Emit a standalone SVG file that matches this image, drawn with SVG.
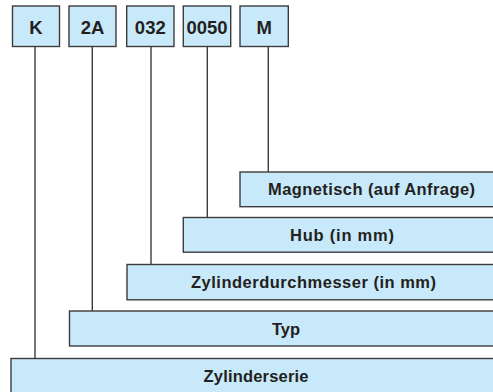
<svg xmlns="http://www.w3.org/2000/svg" width="493" height="392" viewBox="0 0 493 392">
<style>
.box{fill:#c8e9f9;stroke:#3c3c3c;stroke-width:1.4}
.conn line{stroke:#3c3c3c;stroke-width:1.4}
.t{font-family:"Liberation Sans",Arial,sans-serif;font-weight:bold;fill:#231f20;text-anchor:middle}
.code{font-size:18.5px}
.lab{font-size:16.5px}
</style>
<rect width="493" height="392" fill="#ffffff"/>
<g id="connectors" class="conn">
<line x1="35" y1="46.5" x2="35" y2="358.5"/>
<line x1="92.3" y1="46.5" x2="92.3" y2="311"/>
<line x1="151" y1="46.5" x2="151" y2="264.5"/>
<line x1="207.3" y1="46.5" x2="207.3" y2="217.5"/>
<line x1="268.3" y1="46.5" x2="268.3" y2="172"/>
</g>
<g id="code-K"><rect class="box" x="12.5" y="6" width="47" height="40.5"/><text class="t code" x="36" y="34">K</text></g>
<g id="code-2A"><rect class="box" x="69" y="6" width="47" height="40.5"/><text class="t code" x="92.5" y="34">2A</text></g>
<g id="code-032"><rect class="box" x="126.7" y="6" width="47.3" height="40.5"/><text class="t code" x="150.3" y="34">032</text></g>
<g id="code-0050"><rect class="box" x="183.3" y="6" width="47.4" height="40.5"/><text class="t code" x="207" y="34">0050</text></g>
<g id="code-M"><rect class="box" x="240" y="6" width="48.3" height="40.5"/><text class="t code" x="264.2" y="34">M</text></g>
<g id="magnetisch"><rect class="box" x="240" y="172" width="265" height="34.7"/><text class="t lab" x="371.5" y="195.3" textLength="207" lengthAdjust="spacing">Magnetisch (auf Anfrage)</text></g>
<g id="hub"><rect class="box" x="183.3" y="217.5" width="320" height="34.7"/><text class="t lab" x="342" y="240.8" textLength="104" lengthAdjust="spacing">Hub (in mm)</text></g>
<g id="zylinderdurchmesser"><rect class="box" x="127" y="264.5" width="376" height="35.3"/><text class="t lab" x="313.5" y="288.3" textLength="245" lengthAdjust="spacing">Zylinderdurchmesser (in mm)</text></g>
<g id="typ"><rect class="box" x="69.5" y="311" width="434" height="35"/><text class="t lab" x="286" y="334.8" textLength="28" lengthAdjust="spacing">Typ</text></g>
<g id="zylinderserie"><rect class="box" x="11" y="358.5" width="492" height="40"/><text class="t lab" x="256" y="381.8" textLength="105" lengthAdjust="spacing">Zylinderserie</text></g>
</svg>
